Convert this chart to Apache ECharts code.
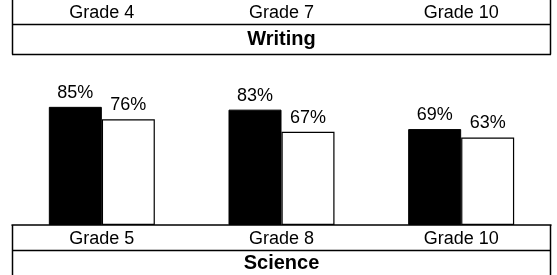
<!DOCTYPE html>
<html>
<head>
<meta charset="utf-8">
<script src="https://cdn.jsdelivr.net/npm/echarts@6/dist/echarts.min.js"></script>
<style>
  html, body { margin: 0; padding: 0; background: #fff; }
  #mychart { width: 557px; height: 275px; }
</style>
</head>
<body>
<div id="mychart"></div>
<script>
// top panel (bars are above the visible area)
let writingGrades = ['Grade 4', 'Grade 7', 'Grade 10']
let writingTitle = 'Writing'

// bottom panel
let scienceGrades = ['Grade 5', 'Grade 8', 'Grade 10']
let scienceTitle = 'Science'
let seriesA = [85, 83, 69]   // black bars
let seriesB = [76, 67, 63]   // white bars

let font = 'Liberation Sans, Arial, sans-serif'

function hline(y, x1, x2) {
    return { type: 'line', shape: { x1: x1, y1: y, x2: x2, y2: y }, style: { stroke: '#000', lineWidth: 1.5 } }
}
function vline(x, y1, y2) {
    return { type: 'line', shape: { x1: x, y1: y1, x2: x, y2: y2 }, style: { stroke: '#000', lineWidth: 1.5 } }
}

let myChart = echarts.init(document.getElementById('mychart'))

let option = {
    animation: false,
    backgroundColor: '#fff',
    textStyle: { fontFamily: font },
    grid: [
        { left: 12, right: 6, top: -60, height: 60, outerBoundsMode: 'none' },
        { left: 12, right: 6, top: 86, bottom: 50, outerBoundsMode: 'none' }
    ],
    xAxis: [
        {
            gridIndex: 0, type: 'category', data: writingGrades,
            axisLine: { show: false }, axisTick: { show: false },
            axisLabel: { margin: 4, fontSize: 18, color: '#000', fontFamily: font }
        },
        {
            gridIndex: 1, type: 'category', data: scienceGrades,
            axisLine: { show: true, lineStyle: { color: '#000', width: 1.5 } },
            axisTick: { show: false },
            axisLabel: { margin: 5, fontSize: 18, color: '#000', fontFamily: font }
        }
    ],
    yAxis: [
        { gridIndex: 0, type: 'value', show: false, min: 0, max: 100 },
        { gridIndex: 1, type: 'value', show: false, min: 0, max: 100, splitLine: { show: false } }
    ],
    series: [
        {
            name: 'A', type: 'bar', xAxisIndex: 1, yAxisIndex: 1,
            data: seriesA, barWidth: 53, barGap: '0%',
            itemStyle: { color: '#000', borderColor: '#000', borderWidth: 1 },
            label: { show: true, position: 'top', distance: 5, formatter: '{c}%', fontSize: 18, color: '#000', fontFamily: font }
        },
        {
            name: 'B', type: 'bar', xAxisIndex: 1, yAxisIndex: 1,
            data: seriesB, barWidth: 53, barGap: '0%',
            itemStyle: { color: '#fff', borderColor: '#000', borderWidth: 1.2 },
            label: { show: true, position: 'top', distance: 5, formatter: '{c}%', fontSize: 18, color: '#000', fontFamily: font }
        }
    ],
    graphic: [
        // writing table
        vline(12.5, 0, 54.5),
        vline(550.5, 0, 54.5),
        hline(24.5, 12, 551),
        hline(54.5, 12, 551),
        {
            type: 'text', x: 281.5, y: 39.5,
            style: { text: writingTitle, fill: '#000', font: 'bold 20px ' + font, textAlign: 'center', textVerticalAlign: 'middle' }
        },
        // science table
        vline(12.5, 225, 275),
        vline(550.5, 225, 275),
        hline(250.5, 12, 551),
        {
            type: 'text', x: 281.5, y: 263,
            style: { text: scienceTitle, fill: '#000', font: 'bold 20px ' + font, textAlign: 'center', textVerticalAlign: 'middle' }
        }
    ]
}

myChart.setOption(option)
</script>
</body>
</html>
